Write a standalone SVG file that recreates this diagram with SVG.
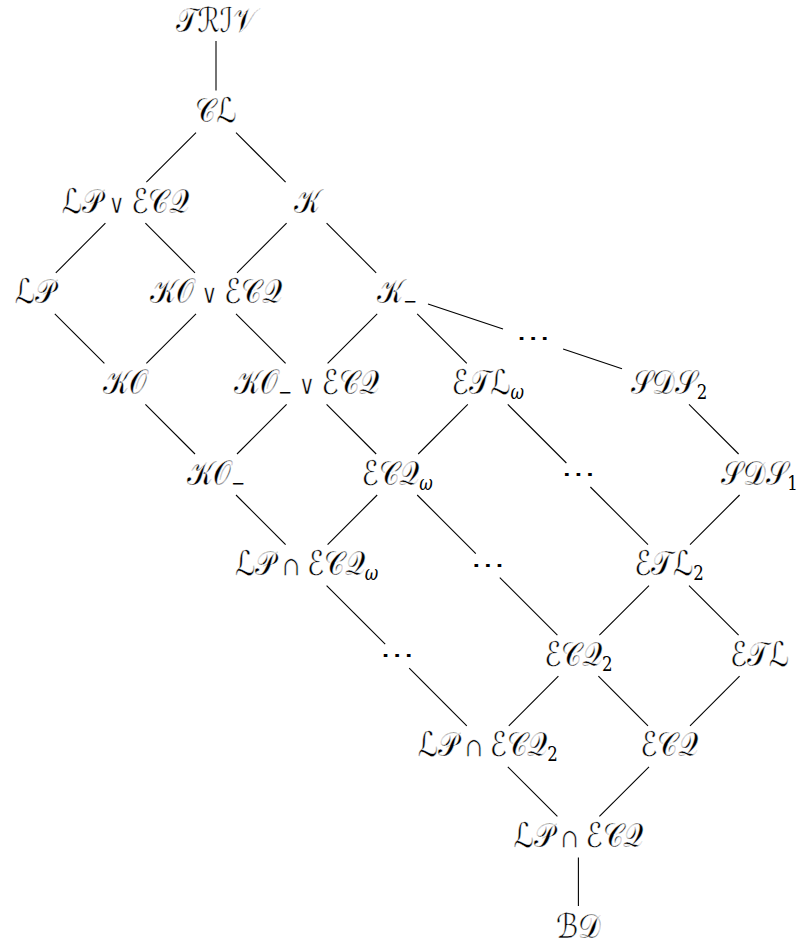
<svg xmlns="http://www.w3.org/2000/svg" width="800" height="947" viewBox="0 0 800 947">
<style>
text { font-family: "DejaVu Serif", "DejaVu Sans", serif; font-size: 34px; fill: #000; text-anchor: middle; stroke: #fff; stroke-width: 0.45px; }
.s { font-family: "DejaVu Serif", serif; font-size: 20px; stroke: none; }
.w { font-style: italic; }
.op { font-family: "DejaVu Serif", "DejaVu Sans", serif; font-size: 26px; stroke-width: 0.5px; }
.dots { font-family: "DejaVu Sans", sans-serif; font-size: 24px; stroke: none; }
#connectors line { stroke: #000; stroke-width: 1.1; fill: none; }
</style>
<rect width="800" height="947" fill="#fff"/>
<g id="connectors">
<line x1="216" y1="41" x2="216" y2="90.6"/>
<line x1="196" y1="132.6" x2="146.4" y2="182.2"/>
<line x1="236" y1="132.6" x2="285.6" y2="182.2"/>
<line x1="105.4" y1="223.2" x2="55.8" y2="272.8"/>
<line x1="145.4" y1="223.2" x2="195" y2="272.8"/>
<line x1="286.6" y1="223.2" x2="237" y2="272.8"/>
<line x1="326.6" y1="223.2" x2="376.2" y2="272.8"/>
<line x1="54.8" y1="313.8" x2="104.4" y2="363.4"/>
<line x1="196" y1="313.8" x2="146.4" y2="363.4"/>
<line x1="236" y1="313.8" x2="285.6" y2="363.4"/>
<line x1="377.2" y1="313.8" x2="327.6" y2="363.4"/>
<line x1="417.2" y1="313.8" x2="466.8" y2="363.4"/>
<line x1="428" y1="304.1" x2="503" y2="329.1"/>
<line x1="563.1" y1="349.1" x2="622" y2="368.7"/>
<line x1="145.4" y1="404.4" x2="195" y2="454"/>
<line x1="286.6" y1="404.4" x2="237" y2="454"/>
<line x1="326.6" y1="404.4" x2="376.2" y2="454"/>
<line x1="467.8" y1="404.4" x2="418.2" y2="454"/>
<line x1="507.8" y1="404.4" x2="566.4" y2="463"/>
<line x1="689" y1="404.4" x2="738.6" y2="454"/>
<line x1="236" y1="495" x2="285.6" y2="544.6"/>
<line x1="377.2" y1="495" x2="327.6" y2="544.6"/>
<line x1="417.2" y1="495" x2="475.8" y2="553.6"/>
<line x1="590.4" y1="487" x2="648" y2="544.6"/>
<line x1="739.6" y1="495" x2="690" y2="544.6"/>
<line x1="326.6" y1="585.6" x2="385.2" y2="644.2"/>
<line x1="499.8" y1="577.6" x2="557.4" y2="635.2"/>
<line x1="649" y1="585.6" x2="599.4" y2="635.2"/>
<line x1="689" y1="585.6" x2="738.6" y2="635.2"/>
<line x1="409.2" y1="668.2" x2="466.8" y2="725.8"/>
<line x1="558.4" y1="676.2" x2="508.8" y2="725.8"/>
<line x1="598.4" y1="676.2" x2="648" y2="725.8"/>
<line x1="739.6" y1="676.2" x2="690" y2="725.8"/>
<line x1="507.8" y1="766.8" x2="557.4" y2="816.4"/>
<line x1="649" y1="766.8" x2="599.4" y2="816.4"/>
<line x1="578.4" y1="857.4" x2="578.4" y2="906"/>
</g>
<g id="n-triv" transform="translate(216,31.5) scale(0.83,1)"><text>𝒯ℛℐ𝒱</text></g>
<g id="n-cl" transform="translate(216,122) scale(0.83,1)"><text>𝒞ℒ</text></g>
<g id="n-lp-or-ecq" transform="translate(125.4,212.7) scale(0.83,1)"><text>ℒ𝒫<tspan class="op"> ∨ </tspan>ℰ𝒞𝒬</text></g>
<g id="n-k" transform="translate(306.6,212.7) scale(0.83,1)"><text>𝒦</text></g>
<g id="n-lp" transform="translate(34.8,303.3) scale(0.83,1)"><text>ℒ𝒫</text></g>
<g id="n-ko-or-ecq" transform="translate(216,303.3) scale(0.83,1)"><text>𝒦𝒪<tspan class="op"> ∨ </tspan>ℰ𝒞𝒬</text></g>
<g id="n-kminus" transform="translate(397.2,303.3) scale(0.83,1)"><text>𝒦<tspan class="s" dy="5">−</tspan></text></g>
<g id="n-dots1" transform="translate(533.1,346) scale(1.45,1)"><text class="dots">⋯</text></g>
<g id="n-ko" transform="translate(125.4,393.9) scale(0.83,1)"><text>𝒦𝒪</text></g>
<g id="n-kominus-or-ecq" transform="translate(306.6,393.9) scale(0.83,1)"><text>𝒦𝒪<tspan class="s" dy="5">−</tspan><tspan class="op" dy="-5"> ∨ </tspan>ℰ𝒞𝒬</text></g>
<g id="n-etl-omega" transform="translate(487.8,393.9) scale(0.83,1)"><text>ℰ𝒯ℒ<tspan class="s w" dy="5">ω</tspan></text></g>
<g id="n-sds2" transform="translate(669,393.9) scale(0.83,1)"><text>𝒮𝒟𝒮<tspan class="s" dy="5">2</tspan></text></g>
<g id="n-kominus" transform="translate(216,484.5) scale(0.83,1)"><text>𝒦𝒪<tspan class="s" dy="5">−</tspan></text></g>
<g id="n-ecq-omega" transform="translate(397.2,484.5) scale(0.83,1)"><text>ℰ𝒞𝒬<tspan class="s w" dy="5">ω</tspan></text></g>
<g id="n-dots2" transform="translate(578.4,482) scale(1.45,1)"><text class="dots">⋯</text></g>
<g id="n-sds1" transform="translate(759.6,484.5) scale(0.83,1)"><text>𝒮𝒟𝒮<tspan class="s" dy="5">1</tspan></text></g>
<g id="n-lp-and-ecq-omega" transform="translate(306.6,575.1) scale(0.83,1)"><text>ℒ𝒫<tspan class="op"> ∩ </tspan>ℰ𝒞𝒬<tspan class="s w" dy="5">ω</tspan></text></g>
<g id="n-dots3" transform="translate(487.8,572.6) scale(1.45,1)"><text class="dots">⋯</text></g>
<g id="n-etl2" transform="translate(669,575.1) scale(0.83,1)"><text>ℰ𝒯ℒ<tspan class="s" dy="5">2</tspan></text></g>
<g id="n-dots4" transform="translate(397.2,663.2) scale(1.45,1)"><text class="dots">⋯</text></g>
<g id="n-ecq2" transform="translate(578.4,665.7) scale(0.83,1)"><text>ℰ𝒞𝒬<tspan class="s" dy="5">2</tspan></text></g>
<g id="n-etl" transform="translate(759.6,665.7) scale(0.83,1)"><text>ℰ𝒯ℒ</text></g>
<g id="n-lp-and-ecq2" transform="translate(487.8,756.3) scale(0.83,1)"><text>ℒ𝒫<tspan class="op"> ∩ </tspan>ℰ𝒞𝒬<tspan class="s" dy="5">2</tspan></text></g>
<g id="n-ecq" transform="translate(669,756.3) scale(0.83,1)"><text>ℰ𝒞𝒬</text></g>
<g id="n-lp-and-ecq" transform="translate(578.4,846.9) scale(0.83,1)"><text>ℒ𝒫<tspan class="op"> ∩ </tspan>ℰ𝒞𝒬</text></g>
<g id="n-bd" transform="translate(578.4,937.5) scale(0.83,1)"><text>ℬ𝒟</text></g>
</svg>
